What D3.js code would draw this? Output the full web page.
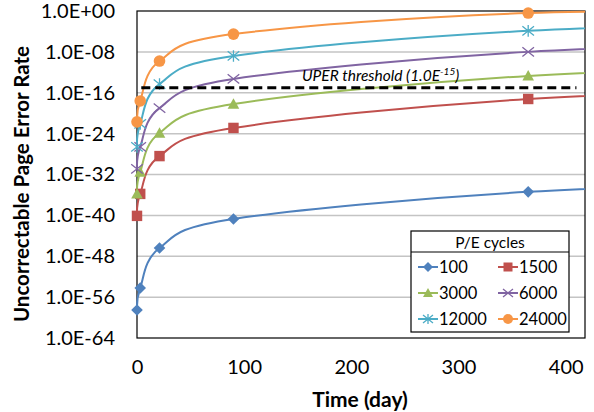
<!DOCTYPE html>
<html>
<head>
<meta charset="utf-8">
<script src="https://cdn.jsdelivr.net/npm/d3@7"></script>
<style>
  body { margin: 0; background: #fff; }
  svg { display: block; font-family: Lato, "Liberation Sans", sans-serif; }
</style>
</head>
<body>
<div id="chart"></div>
<script>
// datos
const days = [0, 3, 21, 90, 365, 730];
const series = ["100", "1500", "3000", "6000", "12000", "24000"];
const uper100   = [3e-59, 6e-55, 4e-47, 2e-41, 4e-36, 1.3e-33];
const uper1500  = [8e-41, 1.6e-36, 4e-29, 1.3e-23, 6e-18, 3e-15];
const uper3000  = [1.6e-36, 3e-32, 1.3e-24, 6e-19, 2e-13, 1e-10];
const uper6000  = [1.3e-31, 2.5e-27, 1e-19, 5e-14, 1e-8, 3e-6];
const uper12000 = [2.5e-27, 8e-23, 5e-15, 1.6e-9, 1.3e-4, 2.5e-2];
const uper24000 = [2e-22, 2.5e-18, 1.6e-10, 3e-5, 0.4, 0.8];
const thresholdValue = 1e-15;
const thresholdDays = [4, 410];
const yTicks = [1e0, 1e-8, 1e-16, 1e-24, 1e-32, 1e-40, 1e-48, 1e-56, 1e-64];
const yTickLabels = ["1.0E+00", "1.0E-08", "1.0E-16", "1.0E-24", "1.0E-32", "1.0E-40", "1.0E-48", "1.0E-56", "1.0E-64"];
const xTicks = [0, 100, 200, 300, 400];

const allValues = [uper100, uper1500, uper3000, uper6000, uper12000, uper24000];
const colors = ["#4F81BD", "#C0504D", "#9BBB59", "#8064A2", "#4BACC6", "#F79646"];
const shapes = ["diamond", "square", "triangle", "x", "star", "circle"];

const W = 594, H = 412;
const m = { left: 137, top: 11, right: 9, bottom: 74 };
const pw = W - m.left - m.right, ph = H - m.top - m.bottom;

const svg = d3.select("#chart").append("svg").attr("width", W).attr("height", H);

const x = d3.scaleLinear().domain([0, 418]).range([m.left, m.left + pw]);
const y = d3.scaleLog().domain([1e-64, 1]).range([m.top + ph, m.top]);

svg.append("defs").append("clipPath").attr("id", "clip")
  .append("rect").attr("x", m.left - 12).attr("y", m.top - 12)
  .attr("width", pw + 12).attr("height", ph + 24);

// rejilla
svg.append("g").selectAll("line")
  .data(yTicks.filter(t => t < 1 && t > 1e-64))
  .join("line")
  .attr("x1", m.left).attr("x2", m.left + pw)
  .attr("y1", d => y(d)).attr("y2", d => y(d))
  .attr("stroke", "#c4c4c4").attr("stroke-width", 1.5);

// ejes
const yAxis = d3.axisLeft(y).tickValues(yTicks).tickSize(0).tickPadding(22)
  .tickFormat((d, i) => yTickLabels[i]);
const gy = svg.append("g").attr("transform", `translate(${m.left},0)`).call(yAxis);
gy.select(".domain").remove();
gy.selectAll("text").attr("font-size", 20).attr("fill", "#000").attr("font-family", "Lato");

const xAxis = d3.axisBottom(x).tickValues(xTicks).tickSize(0).tickPadding(22);
const gx = svg.append("g").attr("transform", `translate(0,${m.top + ph})`).call(xAxis);
gx.select(".domain").remove();
gx.selectAll("text").attr("font-size", 20).attr("fill", "#000").attr("font-family", "Lato");

// borde del area
svg.append("rect").attr("x", m.left).attr("y", m.top).attr("width", pw).attr("height", ph)
  .attr("fill", "none").attr("stroke", "#000").attr("stroke-width", 1.2);

// titulos
svg.append("text").attr("x", m.left + pw / 2 - 1).attr("y", 407)
  .attr("text-anchor", "middle").attr("font-size", 21).attr("font-weight", "bold")
  .text("Time (day)");
svg.append("text").attr("transform", "translate(29,184) rotate(-90)")
  .attr("text-anchor", "middle").attr("font-size", 20.5).attr("font-weight", "bold")
  .text("Uncorrectable Page Error Rate");

// simbolos
function drawMarker(g, shape, color, s) {
  if (shape === "diamond") {
    g.append("path").attr("d", `M0,${-s}L${s},0L0,${s}L${-s},0Z`).attr("fill", color);
  } else if (shape === "square") {
    g.append("rect").attr("x", -s * 0.9).attr("y", -s * 0.9).attr("width", s * 1.8).attr("height", s * 1.8).attr("fill", color);
  } else if (shape === "triangle") {
    g.append("path").attr("d", `M0,${-s}L${s},${s * 0.8}L${-s},${s * 0.8}Z`).attr("fill", color);
  } else if (shape === "x") {
    g.append("path").attr("d", `M${-s},${-s * 0.8}L${s},${s * 0.8}M${-s},${s * 0.8}L${s},${-s * 0.8}`)
      .attr("stroke", color).attr("stroke-width", 1.3).attr("fill", "none");
  } else if (shape === "star") {
    g.append("path").attr("d", `M${-s},${-s * 0.8}L${s},${s * 0.8}M${-s},${s * 0.8}L${s},${-s * 0.8}M0,${-s}L0,${s}`)
      .attr("stroke", color).attr("stroke-width", 1.3).attr("fill", "none");
  } else {
    g.append("circle").attr("r", s).attr("fill", color);
  }
}

const line = d3.line().x((d, i) => x(days[i])).y(d => y(d)).curve(d3.curveCardinal.tension(0));
const plot = svg.append("g").attr("clip-path", "url(#clip)");

allValues.forEach((vals, k) => {
  plot.append("path").datum(vals).attr("d", line)
    .attr("fill", "none").attr("stroke", colors[k]).attr("stroke-width", 2);
});
allValues.forEach((vals, k) => {
  vals.forEach((v, i) => {
    const g = plot.append("g").attr("transform", `translate(${x(days[i])},${y(v)})`);
    drawMarker(g, shapes[k], colors[k], 5.8);
  });
});

// umbral
svg.append("line")
  .attr("x1", x(thresholdDays[0])).attr("x2", x(thresholdDays[1]))
  .attr("y1", y(thresholdValue)).attr("y2", y(thresholdValue))
  .attr("stroke", "#000").attr("stroke-width", 3).attr("stroke-dasharray", "9,5");
const tl = svg.append("text").attr("x", 302).attr("y", 81)
  .attr("font-size", 15.5).attr("font-style", "italic");
tl.append("tspan").text("UPER threshold (1.0E");
tl.append("tspan").attr("font-size", 10).attr("dy", -6).text("-15");
tl.append("tspan").attr("dy", 6).text(")");

// leyenda
const lg = svg.append("g").attr("transform", "translate(411,231)");
lg.append("rect").attr("width", 158).attr("height", 101).attr("fill", "#fff").attr("stroke", "#000").attr("stroke-width", 1.2);
lg.append("line").attr("x1", 0).attr("x2", 158).attr("y1", 21).attr("y2", 21).attr("stroke", "#000").attr("stroke-width", 1);
lg.append("text").attr("x", 79).attr("y", 17).attr("text-anchor", "middle").attr("font-size", 15.5).text("P/E cycles");
series.forEach((name, k) => {
  const col = k % 2, row = Math.floor(k / 2);
  const ix = 7 + col * 80, iy = 36 + row * 26;
  const it = lg.append("g").attr("transform", `translate(${ix},${iy})`);
  it.append("line").attr("x1", 0).attr("x2", 20).attr("stroke", colors[k]).attr("stroke-width", 2);
  drawMarker(it.append("g").attr("transform", "translate(10,0)"), shapes[k], colors[k], 5);
  it.append("text").attr("x", 21).attr("y", 6).attr("font-size", 16.5).text(name);
});
</script>
</body>
</html>
